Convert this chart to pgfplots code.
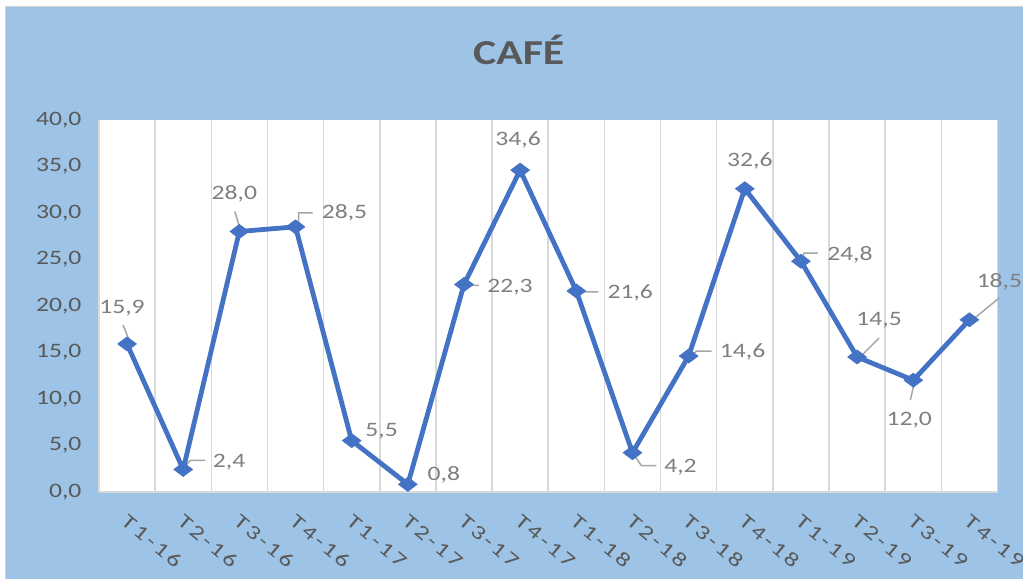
\documentclass[border=0pt]{standalone}
\usepackage{fontspec}
\setmainfont{Carlito}[FakeStretch=1.25]
\newfontfamily\xlabfont{Carlito}[FakeStretch=1.3, LetterSpace=14]
\usepackage{pgfplots}
\pgfplotsset{compat=1.18}
\usepackage{pgfplotstable}
\pgfkeys{/pgf/number format/assume math mode=true}
\definecolor{bgblue}{RGB}{157,195,230}
\definecolor{serie}{RGB}{68,114,196}
\definecolor{txtgray}{RGB}{89,89,89}
\definecolor{lblgray}{RGB}{127,127,127}
\definecolor{gridgray}{RGB}{217,217,217}
\definecolor{leadgray}{RGB}{166,166,166}

\pgfplotstableread{
k v lx ly
0 15.9 -5 36
1 2.4 46 7
2 28.0 -5 38
3 28.5 49 14
4 5.5 30 9
5 0.8 36 10
6 22.3 46 -3
7 34.6 -2 30
8 21.6 54 -1.5
9 4.2 48 -14
10 14.6 54 4
11 32.6 5 28
12 24.8 49 6
13 14.5 22 37
14 12.0 -4 -40
15 18.5 30 38
}\datatable

\pgfplotstableread{
k v dx dy
0 15.9 2 4
0 15.9 -4 19
nan nan nan nan
1 2.4 2 3
1 2.4 7 9
1 2.4 22 9
nan nan nan nan
2 28.0 0 5
2 28.0 -4.5 20
nan nan nan nan
3 28.5 3 2
3 28.5 3 14
3 28.5 17 14
nan nan nan nan
6 22.3 1 -1
6 22.3 15 -1
nan nan nan nan
8 21.6 1 -1
8 21.6 22 -1
nan nan nan nan
9 4.2 0 0
9 4.2 9 -13
9 4.2 24 -13
nan nan nan nan
10 14.6 3 1
10 14.6 8 5
10 14.6 23 5
nan nan nan nan
12 24.8 1 0
12 24.8 3 8
12 24.8 17 8
nan nan nan nan
13 14.5 2 -1
13 14.5 22 19
nan nan nan nan
14 12.0 1 -3
14 12.0 -3 -20
nan nan nan nan
15 18.5 3 0
15 18.5 30 22
}\leadtable

\begin{document}
\begin{tikzpicture}[x=1pt,y=1pt]
\fill[white] (0,0) rectangle (1023,579);
\fill[bgblue] (6,0) rectangle (1023,572);
\draw[black!18, line width=1pt] (6,0) -- (6,572) -- (1023,572);
\useasboundingbox (0,0) rectangle (1023,579);
\node[font=\bfseries\fontsize{35}{40}\selectfont, text=txtgray, anchor=base, inner sep=0pt] at (519,514) {CAFÉ};
\begin{axis}[
  at={(99pt,87pt)}, anchor=south west,
  scale only axis, width=899pt, height=372pt,
  xmin=-0.5, xmax=15.5, ymin=0, ymax=40,
  clip=false,
  axis background/.style={fill=white},
  axis x line*=bottom, axis y line*=left,
  x axis line style={draw=gridgray, line width=1.5pt},
  y axis line style={draw=none},
  xtick={0,...,15},
  xticklabels={T1-16,T2-16,T3-16,T4-16,T1-17,T2-17,T3-17,T4-17,T1-18,T2-18,T3-18,T4-18,T1-19,T2-19,T3-19,T4-19},
  minor xtick={-0.5,0.5,...,15.5},
  xminorgrids, minor grid style={draw=gridgray, line width=1.5pt},
  major tick length=0pt, minor tick length=0pt,
  ytick={0,5,...,40},
  yticklabel={\pgfmathprintnumber[fixed,fixed zerofill,precision=1,use comma]{\tick}},
  yticklabel style={font=\fontsize{20.5}{24}\selectfont, text=txtgray, xshift=-14pt},
  xticklabel style={font=\xlabfont\fontsize{20}{24}\selectfont, text=txtgray, rotate=-40, anchor=north west, inner sep=0pt, yshift=-15pt, xshift=15pt},
]
\addplot[leadgray, line width=1.5pt, unbounded coords=jump, mark=none]
  table[x expr=\thisrow{k}+\thisrow{dx}/56.1875, y expr=\thisrow{v}+\thisrow{dy}/9.3]{\leadtable};
\addplot[serie, line width=4.8pt, line join=round, mark=diamond*, mark size=9.5pt,
  mark options={rotate=90, line width=0.5pt, fill=serie, draw=serie}]
  table[x=k, y=v]{\datatable};
\addplot[draw=none, mark=none, point meta=explicit,
  nodes near coords={\pgfmathprintnumber[fixed,fixed zerofill,precision=1,use comma]{\pgfplotspointmeta}},
  every node near coord/.style={anchor=center, inner sep=0pt, font=\fontsize{20.5}{24}\selectfont, text=lblgray}]
  table[x expr=\thisrow{k}+\thisrow{lx}/56.1875, y expr=\thisrow{v}+\thisrow{ly}/9.3, meta=v]{\datatable};
\end{axis}
\end{tikzpicture}
\end{document}
